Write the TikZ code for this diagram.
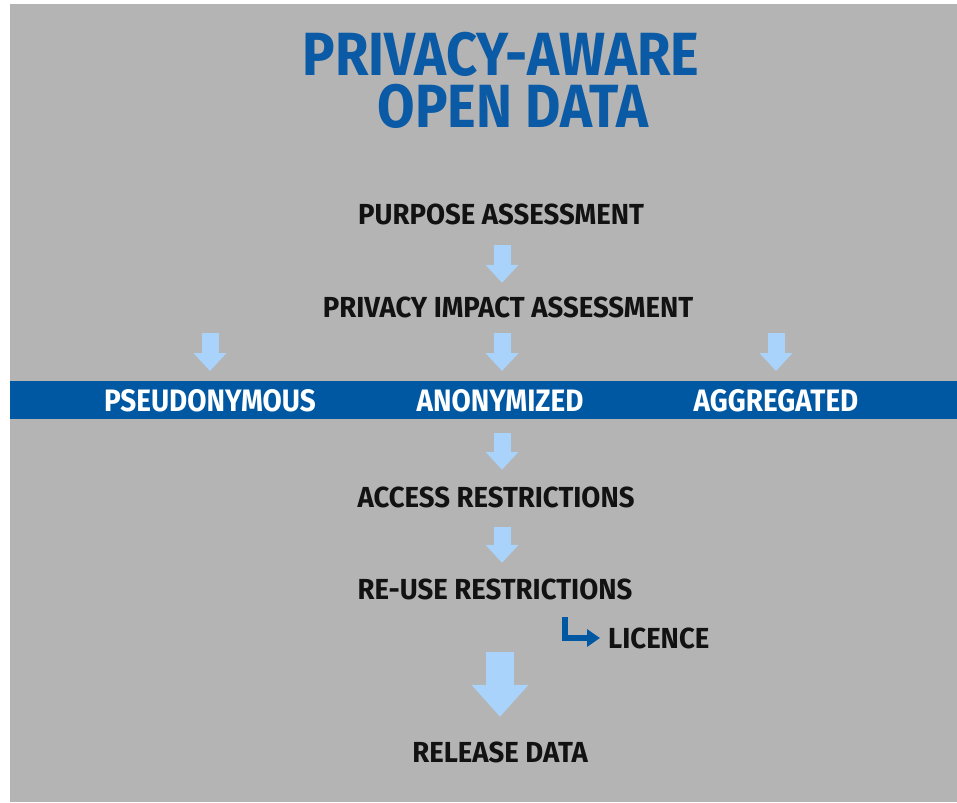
\documentclass[tikz,border=0pt]{standalone}
\usepackage{fontspec}
\setmainfont[FakeStretch=0.95]{Fira Sans}
\newfontfamily\headfont[FakeStretch=0.89]{Fira Sans}
\newfontfamily\tagfont[FakeStretch=0.9]{Fira Sans}
\usetikzlibrary{arrows.meta}
\definecolor{panel}{HTML}{B4B4B4}
\definecolor{bandblue}{HTML}{0058A3}
\definecolor{titleblue}{HTML}{0A5AA6}
\definecolor{pale}{HTML}{A9D3FB}
\definecolor{ink}{HTML}{121212}
\tikzset{
  lbl/.style={font=\fontsize{29}{30}\selectfont\bfseries, text=ink, inner sep=0pt, text height=20pt, text depth=0pt},
  tag/.style={lbl, text=white, font=\tagfont\fontsize{31}{32}\selectfont\bfseries, text height=22pt},
  headline/.style={font=\headfont\fontsize{61}{52}\selectfont\bfseries, text=titleblue, inner sep=0pt, align=center},
  flow/.style={pale, line width=17pt, -{Triangle[width=32pt,length=18pt]}},
  bigflow/.style={pale, line width=28pt, -{Triangle[width=55pt,length=32pt]}},
  hookline/.style={bandblue, line width=6.5pt, -{Triangle[width=17pt,length=13pt]}},
}
\begin{document}
\begin{tikzpicture}[x=1pt,y=-1pt]
  \useasboundingbox (0,0) rectangle (957,802);
  \fill[white] (0,0) rectangle (957,802);
  \fill[panel] (10,4) rectangle (957,802);

  % title
  \node[headline] (title) at (501,80) {PRIVACY-AWARE\\\hspace*{24pt}OPEN DATA};

  % steps
  \node[lbl] (purpose) at (501,215) {PURPOSE ASSESSMENT};
  \node[lbl] (pia) at (508,307) {PRIVACY IMPACT ASSESSMENT};
  \node[fill=bandblue, minimum width=947pt, minimum height=38pt, inner sep=0pt, anchor=north west] (band) at (10,381) {};
  \node[tag] (pseudo) at (210,400) {PSEUDONYMOUS};
  \node[tag] (anon) at (500,400) {ANONYMIZED};
  \node[tag] (aggr) at (776,400) {AGGREGATED};
  \node[lbl] (access) at (496,497) {ACCESS RESTRICTIONS};
  \node[lbl] (reuse) at (495,589) {RE-USE RESTRICTIONS};
  \node[lbl, anchor=west] (licence) at (608,638) {LICENCE};
  \node[lbl] (release) at (500,752) {RELEASE DATA};

  \coordinate (col) at (502,0);
  \coordinate (hk) at (565,617);

  % arrows
  \draw[flow, shorten <=20pt, shorten >=14pt] (purpose.south -| col) -- (pia.north -| col);
  \draw[flow, shorten <=16pt, shorten >=10pt] (pseudo |- pia.south) -- (pseudo |- band.north);
  \draw[flow, shorten <=16pt, shorten >=10pt] (col |- pia.south) -- (col |- band.north);
  \draw[flow, shorten <=16pt, shorten >=10pt] (aggr |- pia.south) -- (aggr |- band.north);
  \draw[flow, shorten <=14pt, shorten >=17pt] (col |- band.south) -- (col |- access.north);
  \draw[flow, shorten <=20pt, shorten >=16pt] (col |- access.south) -- (col |- reuse.north);
  \draw[hookline, shorten >=8pt] (hk) |- (licence.west);
  \draw[bigflow, shorten <=53pt, shorten >=25pt] (release |- reuse.south) -- (release.north);
\end{tikzpicture}
\end{document}
